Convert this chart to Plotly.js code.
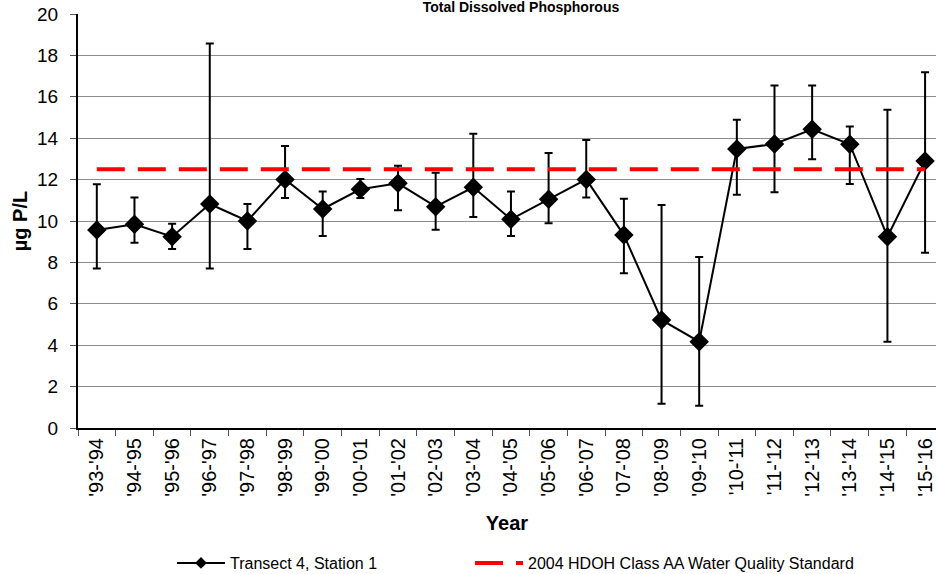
<!DOCTYPE html>
<html><head><meta charset="utf-8">
<script src="https://cdn.plot.ly/plotly-3.0.1.min.js"></script>
<style>html,body{margin:0;padding:0;background:#fff}#chart{width:936px;height:574px}</style>
</head><body><div id="chart"></div>
<script>
const years = ["'93-'94","'94-'95","'95-'96","'96-'97","'97-'98","'98-'99","'99-'00","'00-'01","'01-'02","'02-'03","'03-'04","'04-'05","'05-'06","'06-'07","'07-'08","'08-'09","'09-'10","'10-'11","'11-'12","'12-'13","'13-'14","'14-'15","'15-'16"];
const tdp = [9.57,9.84,9.24,10.82,10.0,12.01,10.58,11.53,11.82,10.69,11.63,10.08,11.05,12.01,9.32,5.22,4.17,13.48,13.72,14.43,13.71,9.24,12.90];
const upper = [11.77,11.13,9.87,18.57,10.82,13.62,11.43,12.03,12.67,12.33,14.22,11.43,13.29,13.91,11.08,10.77,8.26,14.89,16.55,16.55,14.57,15.38,17.18];
const lower = [7.71,8.95,8.65,7.71,8.65,11.11,9.28,11.11,10.52,9.58,10.19,9.28,9.89,11.13,7.47,1.17,1.08,11.27,11.39,12.98,11.79,4.17,8.47];
const standard = 12.5;

const errPlus = tdp.map((v,i)=>upper[i]-v);
const errMinus = tdp.map((v,i)=>v-lower[i]);
const stdLine = years.map(()=>standard);
const emptyY = years.map(()=>null);

const font = "Arial, 'Liberation Sans', sans-serif";
const traces = [
  {x: years, y: tdp, type:'scatter', mode:'lines+markers', name:'Transect 4, Station 1',
   line:{color:'#000', width:2}, marker:{symbol:'diamond', size:15, color:'#000'},
   error_y:{type:'data', symmetric:false, array:errPlus, arrayminus:errMinus, color:'#000', thickness:2, width:4},
   showlegend:false},
  {x: years, y: emptyY, type:'scatter', mode:'lines+markers', name:'Transect 4, Station 1',
   line:{color:'#000', width:2}, marker:{symbol:'diamond', size:9, color:'#000'}, legend:'legend'},
  {x: years, y: stdLine, type:'scatter', mode:'lines', name:'2004 HDOH Class AA Water Quality Standard',
   line:{color:'#ff0000', width:4, dash:'28px,13px'}, legend:'legend2'}
];
const layout = {
  width:936, height:574,
  margin:{l:78, r:0, t:14, b:146},
  paper_bgcolor:'#fff', plot_bgcolor:'#fff',
  font:{family:font, color:'#000'},
  showlegend:true,
  hovermode:false,
  title:{text:'<b>Total Dissolved Phosphorous</b>', font:{size:14, family:font, color:'#000'},
         xref:'container', yref:'container', x:521/936, xanchor:'center', y:1 - 7/574, yanchor:'middle'},
  xaxis:{type:'category', range:[-0.5, 22.29], tickson:'boundaries', ticks:'outside', ticklen:6, tickcolor:'#555',
         showgrid:false, showline:true, linecolor:'#000', linewidth:2, tickangle:-90,
         tickfont:{size:20, family:font}, automargin:false,
         title:{text:'<b>Year</b>', font:{size:20, family:font}, standoff:20}},
  yaxis:{range:[0,20], dtick:2, tick0:0, ticks:'outside', ticklen:6, tickcolor:'#555',
         showgrid:true, gridcolor:'#8c8c8c', gridwidth:1, zeroline:false,
         showline:true, linecolor:'#000', linewidth:2, ticklabelstandoff:8,
         tickfont:{size:19, family:font}, automargin:false,
         title:{text:'<b>µg P/L</b>', font:{size:20, family:font}, standoff:4}},
  legend:{orientation:'h', x:172/936, xref:'container', xanchor:'left', y:11/574, yref:'container', yanchor:'middle',
          itemwidth:48, font:{size:16, family:font}, bgcolor:'rgba(0,0,0,0)'},
  legend2:{orientation:'h', x:470/936, xref:'container', xanchor:'left', y:11/574, yref:'container', yanchor:'middle',
          itemwidth:48, font:{size:16, family:font}, bgcolor:'rgba(0,0,0,0)'}
};
Plotly.newPlot('chart', traces, layout, {displayModeBar:false, staticPlot:true});
</script></body></html>
